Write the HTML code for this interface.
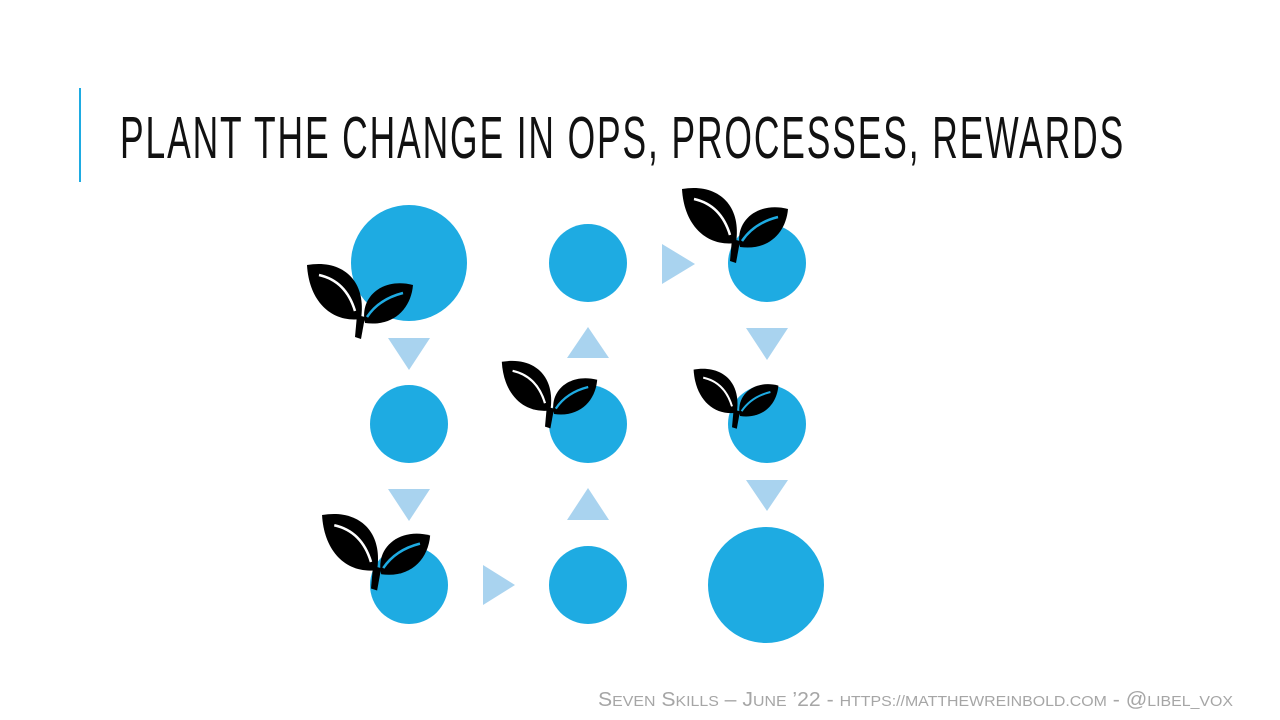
<!DOCTYPE html>
<html><head><meta charset="utf-8"><style>
html,body{margin:0;padding:0;background:#fff;}
svg{display:block}
</style></head><body>
<svg width="1280" height="720" viewBox="0 0 1280 720" xmlns="http://www.w3.org/2000/svg">
<defs>
<g id="plant">
 <path d="M2,2 C36,-4 62,16 56,56 C26,60 4,38 2,2 Z" fill="#000"/>
 <path d="M14,12 C32,16 44,28 50,48" stroke="#fff" stroke-width="2.5" fill="none"/>
 <path d="M108,22 C78,14 54,34 60,60 C88,64 106,46 108,22 Z" fill="#000"/>
 <path d="M98,30 C82,34 70,42 62,54" stroke="#1eabe2" stroke-width="2.5" fill="none"/>
 <path d="M52,52 L60,54 L56,76 L50,74 Z" fill="#000"/>
</g>
</defs>
<rect x="79" y="88" width="2" height="94" fill="#1eabe2"/>
<g transform="translate(120,158) scale(0.6,1)">
<text x="0" y="0" font-family="'Liberation Sans',sans-serif" font-size="59" textLength="1672" lengthAdjust="spacing" fill="#111">PLANT THE CHANGE IN OPS, PROCESSES, REWARDS</text>
</g>
<g fill="#1eabe2">
 <circle cx="409" cy="263" r="58"/><circle cx="588" cy="263" r="39"/><circle cx="767" cy="263" r="39"/>
 <circle cx="409" cy="424" r="39"/><circle cx="588" cy="424" r="39"/><circle cx="767" cy="424" r="39"/>
 <circle cx="409" cy="585" r="39"/><circle cx="588" cy="585" r="39"/><circle cx="766" cy="585" r="58"/>
</g>
<g fill="#a9d3ef">
 <polygon points="388,338 430,338 409,370"/>
 <polygon points="388,489 430,489 409,521"/>
 <polygon points="483,565 515,585 483,605"/>
 <polygon points="567,358 609,358 588,327"/>
 <polygon points="567,520 609,520 588,488"/>
 <polygon points="662,244 695,264 662,284"/>
 <polygon points="746,328 788,328 767,360"/>
 <polygon points="746,480 788,480 767,511"/>
</g>
<use href="#plant" transform="translate(305,263)"/>
<use href="#plant" transform="translate(680,187)"/>
<use href="#plant" transform="translate(500,360) scale(0.9)"/>
<use href="#plant" transform="translate(692,368) scale(0.8)"/>
<use href="#plant" transform="translate(320,513) scale(1.02)"/>
<text x="598" y="706" font-family="'Liberation Sans',sans-serif" font-size="20" fill="#a6a6a6" textLength="635" lengthAdjust="spacingAndGlyphs">S<tspan font-size="15">EVEN</tspan> S<tspan font-size="15">KILLS</tspan> – J<tspan font-size="15">UNE</tspan> ’22 - <tspan font-size="15">HTTPS://MATTHEWREINBOLD.COM</tspan> - @<tspan font-size="15">LIBEL_VOX</tspan></text>
</svg>
</body></html>
